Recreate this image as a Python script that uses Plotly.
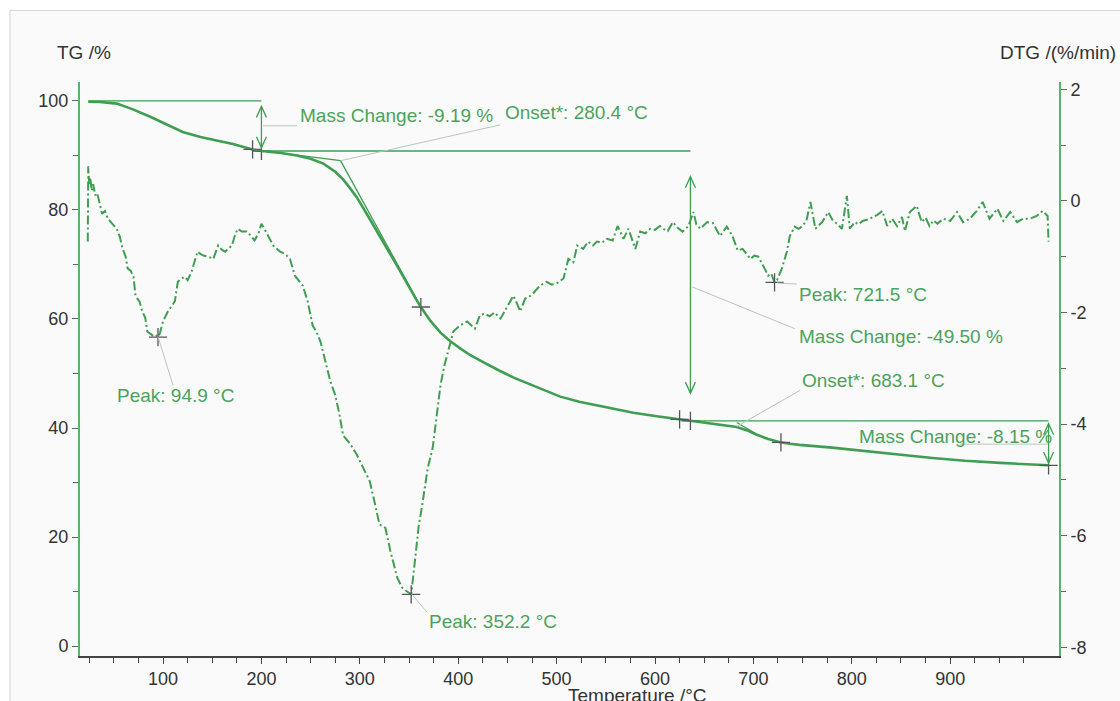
import numpy as np
import plotly.graph_objects as go

# ---- TG curve (mass %, left axis) ----
T_TG = [24, 36, 53, 70, 87, 104, 120, 138, 155, 171, 191, 200, 220, 236, 250, 263,
        275, 283, 290, 297, 305, 313, 320, 330, 341, 351, 357, 362, 367, 372, 382,
        392, 402, 412, 422, 432, 442, 457, 473, 488, 503, 523, 544, 563, 578, 600,
        625, 636, 650, 665, 683, 693, 704, 715, 727, 737, 747, 780, 815, 850, 882,
        915, 951, 975, 1000]
TG = [99.85, 99.8, 99.5, 98.4, 97.1, 95.6, 94.3, 93.4, 92.7, 92.1, 91.1, 90.81,
      90.45, 90.0, 89.4, 88.5, 87.0, 85.6, 84.0, 82.3, 79.9, 77.5, 75.3, 72.2, 68.8,
      65.5, 63.7, 62.2, 60.8, 59.6, 57.5, 55.9, 54.6, 53.4, 52.4, 51.4, 50.5, 49.2,
      48.0, 46.8, 45.8, 44.8, 44.0, 43.3, 42.8, 42.2, 41.6, 41.31, 41.0, 40.7, 40.2,
      39.6, 38.7, 38.0, 37.4, 37.1, 36.9, 36.4, 35.8, 35.1, 34.5, 34.0, 33.6, 33.4,
      33.16]
assert len(T_TG) == len(TG)

# ---- DTG curve (%/min, right axis) ----
T_DTG = [23.5, 24.0, 25.0, 26.0, 27.5, 29.0, 31.0, 33.0, 35.0, 38.0, 41.0, 44.0,
         49, 53, 56, 59, 62, 64, 67, 70, 72, 76, 79, 82, 84, 87, 90, 92.5, 94.9, 97,
         100, 105, 108, 112, 115, 118, 122, 125, 129, 132, 135, 138, 141, 146, 151,
         156, 160, 163, 167, 170, 173, 176, 180, 185, 189, 193, 197, 200, 203, 207,
         212, 219, 224, 229, 234, 242, 247, 252, 256, 260, 265, 270, 275, 279, 283,
         290, 297, 304, 310, 315, 320, 326, 331, 338, 343, 348, 352.2, 356, 360, 363,
         366, 369, 374, 378, 382, 386, 390, 395, 402, 409, 417, 422, 427, 432, 437,
         443, 450, 456, 460, 463, 468, 472, 476, 483, 490, 495, 500, 507, 512, 517,
         521, 527, 532, 537, 541, 546, 551, 557, 562, 568, 573, 577, 580, 585, 590,
         595, 600, 605, 610, 613, 618, 623, 628, 634, 639, 642, 646, 653, 659, 666,
         673, 679, 684, 689, 693, 697, 701, 705, 710, 715, 718, 721.5, 724, 729, 734,
         737, 742, 746, 750, 754, 758, 763, 770, 776, 781, 785, 790, 795, 798, 803,
         807, 811, 817, 822, 826, 831, 836, 841, 846, 851, 854, 859, 866, 871, 875,
         879, 883, 887, 893, 900, 907, 913, 920, 927, 933, 940, 948, 954, 961, 968,
         974, 981, 988, 994, 999, 1000]
DTG = [-0.73, 0.62, 0.30, 0.42, 0.18, 0.30, 0.10, 0.14, 0.00, -0.23, -0.18, -0.32,
       -0.42, -0.50, -0.64, -0.86, -1.00, -1.21, -1.25, -1.36, -1.70, -1.80, -1.98,
       -2.10, -2.34, -2.38, -2.42, -2.40, -2.44, -2.36,
       -2.16, -1.98, -1.90, -1.80, -1.45, -1.40, -1.36, -1.42, -1.27, -1.10, -0.91,
       -0.95, -0.98, -1.00, -1.04,
       -0.80, -0.88, -0.91, -0.85, -0.80, -0.62, -0.50, -0.55, -0.55, -0.62, -0.71,
       -0.58, -0.41, -0.50, -0.64,
       -0.80, -0.91, -0.95, -1.04, -1.34, -1.52, -1.80, -2.23, -2.35, -2.52, -2.85,
       -3.23, -3.48, -3.80, -4.20,
       -4.35, -4.55, -4.80, -5.02, -5.40, -5.80, -5.86, -6.27, -6.75, -6.93, -7.00,
       -7.05, -6.45, -5.80, -5.50,
       -5.10, -4.79, -4.43, -3.90, -3.30, -2.95, -2.70, -2.34, -2.23, -2.16, -2.29,
       -2.05, -2.02, -2.07, -2.00,
       -2.11, -1.89, -1.70, -1.85, -1.98, -1.75, -1.72, -1.66, -1.52, -1.45, -1.50,
       -1.48, -1.39, -1.04, -1.10,
       -0.80, -0.86, -0.73, -0.80, -0.73, -0.75, -0.68, -0.71, -0.45, -0.68, -0.50,
       -0.70, -0.86, -0.55, -0.58,
       -0.50, -0.52, -0.45, -0.52, -0.54, -0.38, -0.48, -0.55, -0.45, -0.20, -0.42,
       -0.50, -0.38, -0.40, -0.63,
       -0.46, -0.64, -0.89, -0.86, -0.95, -1.04, -0.98, -1.00, -1.16, -1.34, -1.30,
       -1.46, -1.42, -1.21, -0.91,
       -0.63, -0.46, -0.50, -0.45, -0.35, -0.02, -0.50, -0.38, -0.20, -0.36, -0.41,
       -0.50, 0.09, -0.50, -0.38,
       -0.42, -0.36, -0.33, -0.29, -0.25, -0.18, -0.45, -0.32, -0.45, -0.29, -0.54,
       -0.20, -0.09, -0.38, -0.30,
       -0.45, -0.35, -0.41, -0.32, -0.36, -0.20, -0.38, -0.32, -0.18, -0.02, -0.32,
       -0.14, -0.36, -0.20, -0.38,
       -0.32, -0.32, -0.27, -0.18, -0.27, -0.73]
assert len(T_DTG) == len(DTG)

# Evaluation results
TG_MARK_T = [191, 200, 362, 625, 636, 728, 1000]
DTG_PEAKS_T = [94.9, 352.2, 721.5]
MASS_STEPS = [(200, -9.19), (636, -49.50), (1000, -8.15)]
ONSETS = [280.4, 683.1]

# Axis ticks
X_TICKS = [100, 200, 300, 400, 500, 600, 700, 800, 900]
TG_TICKS = [0, 20, 40, 60, 80, 100]
DTG_TICKS = [-8, -6, -4, -2, 0, 2]

GREEN = "#3f9e52"
TEXT_GREEN = "#4aa35c"
AXIS_GREEN = "#5ab36a"
LEADER = "#b9c7bd"
FONT = "Liberation Sans, Arial, sans-serif"

fig = go.Figure()

fig.add_trace(go.Scatter(x=T_TG, y=TG, mode="lines", line=dict(color=GREEN, width=2.6),
                         hoverinfo="skip", showlegend=False))
fig.add_trace(go.Scatter(x=T_DTG, y=DTG, mode="lines", yaxis="y2",
                         line=dict(color=GREEN, width=2, dash="9px,3px,2px,3px"),
                         hoverinfo="skip", showlegend=False))

cross = dict(symbol="cross-thin", size=13, line=dict(width=1.3, color="#555"))
fig.add_trace(go.Scatter(x=TG_MARK_T, y=np.interp(TG_MARK_T, T_TG, TG), mode="markers",
                         marker=cross, hoverinfo="skip", showlegend=False))
fig.add_trace(go.Scatter(x=DTG_PEAKS_T, y=np.interp(DTG_PEAKS_T, T_DTG, DTG), mode="markers",
                         yaxis="y2", marker=cross, hoverinfo="skip", showlegend=False))

shapes = []


def seg(x0, y0, x1, y1, color=GREEN, width=1.3):
    shapes.append(dict(type="line", xref="x", yref="y", x0=x0, y0=y0, x1=x1, y1=y1,
                       line=dict(color=color, width=width)))


def head(x, y, up):
    s = 1 if up else -1
    shapes.append(dict(type="path", xref="x", yref="y", xsizemode="pixel",
                       ysizemode="pixel", xanchor=x, yanchor=y,
                       path=f"M -5,{-11 * s} L 0,0 L 5,{-11 * s}",
                       line=dict(color=GREEN, width=1.3)))


# step baselines
seg(24, 100.0, 200, 100.0)
seg(200, 90.81, 636, 90.81)
seg(636, 41.31, 1000, 41.31)

# onset tangents
seg(191, 91.1, ONSETS[0], 89.05)
seg(ONSETS[0], 89.05, 362, 62.2)
seg(ONSETS[1], 41.0, 706, 38.6)

# mass change arrows
for (x, top, bot) in [(200, 99.0, 91.4), (636, 86.1, 46.4), (1000, 40.8, 33.6)]:
    seg(x, top, x, bot)
    head(x, top, True)
    head(x, bot, False)

# leader lines
seg(201.6, 95.44, 236.2, 95.44, LEADER, 1)
seg(280.9, 89.05, 442.5, 95.6, LEADER, 1)
seg(94.9, 56.75, 110.2, 47.8, LEADER, 1)
seg(353.0, 9.5, 368.3, 6.2, LEADER, 1)
seg(724.0, 66.6, 744.3, 66.4, LEADER, 1)
seg(637.6, 65.9, 742.3, 58.2, LEADER, 1)
seg(683.3, 40.3, 747.4, 46.9, LEADER, 1)
seg(910.0, 37.04, 999.4, 37.04, LEADER, 1)

# scanned-page frame
shapes.append(dict(type="rect", xref="paper", yref="paper", x0=-0.0715, y0=-0.3,
                   x1=1.2, y1=1.1248, layer="below",
                   line=dict(color="#d4d4d4", width=1), fillcolor="#fafafa"))

labels = [
    (237.2, 97.4, f"Mass Change: {MASS_STEPS[0][1]:.2f} %"),
    (445.5, 97.8, f"Onset*: {ONSETS[0]:.1f} °C"),
    (51.2, 46.0, f"Peak: {DTG_PEAKS_T[0]:.1f} °C"),
    (368.3, 4.56, f"Peak: {DTG_PEAKS_T[1]:.1f} °C"),
    (744.3, 64.4, f"Peak: {DTG_PEAKS_T[2]:.1f} °C"),
    (744.3, 56.75, f"Mass Change: {MASS_STEPS[1][1]:.2f} %"),
    (747.4, 48.7, f"Onset*: {ONSETS[1]:.1f} °C"),
    (805.3, 38.5, f"Mass Change: {MASS_STEPS[2][1]:.2f} %"),
]
annotations = [dict(x=x, y=y, xref="x", yref="y", text=t, showarrow=False,
                    xanchor="left", yanchor="middle",
                    font=dict(size=19, color=TEXT_GREEN, family=FONT))
               for x, y, t in labels]

axis_title_font = dict(size=19, color="#333", family=FONT)
annotations += [
    dict(x=-0.0255, y=1.052, xref="paper", yref="paper", text="TG /%", showarrow=False,
         xanchor="left", yanchor="middle", font=axis_title_font),
    dict(x=1.0603, y=1.052, xref="paper", yref="paper", text="DTG /(%/min)",
         showarrow=False, xanchor="right", yanchor="middle", font=axis_title_font),
    dict(x=0.569, y=-0.069, xref="paper", yref="paper", text="Temperature /°C",
         showarrow=False, xanchor="center", yanchor="middle", font=axis_title_font),
]

tick_font = dict(size=18, color="#333", family=FONT)

fig.update_layout(
    width=1120, height=701, autosize=False,
    margin=dict(l=80, r=61, t=82, b=42),
    paper_bgcolor="white", plot_bgcolor="rgba(0,0,0,0)",
    font=dict(family=FONT),
    shapes=shapes, annotations=annotations,
    xaxis=dict(range=[15.6, 1010.6], tickmode="array",
               tickvals=X_TICKS, ticktext=[str(v) for v in X_TICKS],
               ticks="outside", ticklen=6, tickwidth=1.2, tickcolor="#444",
               showline=True, linecolor="#444", linewidth=1.5, mirror=False,
               showgrid=False, zeroline=False, tickfont=tick_font,
               minor=dict(tickmode="array",
                          tickvals=[v for v in range(25, 1001, 25) if v % 100],
                          ticks="outside", ticklen=5, tickwidth=1.2, tickcolor="#444",
                          showgrid=False)),
    yaxis=dict(range=[-1.82, 103.47], tickmode="array",
               tickvals=TG_TICKS, ticktext=[str(v) for v in TG_TICKS],
               ticks="outside", ticklen=6, tickwidth=1.2, tickcolor="#666",
               showline=True, linecolor=AXIS_GREEN, linewidth=2,
               showgrid=False, zeroline=False, tickfont=tick_font,
               minor=dict(tickmode="array", tickvals=[10, 30, 50, 70, 90],
                          ticks="outside", ticklen=5, tickwidth=1.2, tickcolor="#666",
                          showgrid=False)),
    yaxis2=dict(range=[-8.155, 2.13], overlaying="y", side="right", tickmode="array",
                tickvals=DTG_TICKS, ticktext=[str(v) for v in DTG_TICKS],
                ticks="outside", ticklen=6, tickwidth=1.2, tickcolor="#666",
                showline=True, linecolor=AXIS_GREEN, linewidth=2,
                showgrid=False, zeroline=False, tickfont=tick_font,
                minor=dict(tickmode="array", tickvals=[-7, -5, -3, -1, 1],
                           ticks="outside", ticklen=5, tickwidth=1.2, tickcolor="#666",
                           showgrid=False)),
)

fig.write_html("out.html")
